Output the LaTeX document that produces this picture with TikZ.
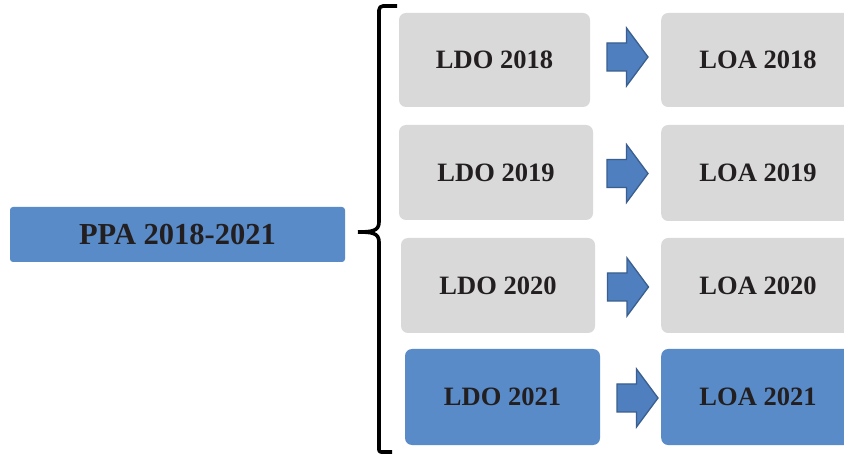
\documentclass[tikz,border=0pt]{standalone}
\usepackage{fontspec}
\setmainfont{Liberation Serif}
\begin{document}
\begin{tikzpicture}[x=1pt,y=-1pt,
  greybox/.style={fill=boxgrey,rounded corners=7pt,inner sep=0pt,font=\fontsize{26.5}{30}\selectfont\bfseries,text=txtdark},
  bluebox/.style={greybox,fill=boxblue},
  blockarrow/.style={fill=arrowblue,draw=arrowedge,line width=1.3pt,line join=miter},
  bracestyle/.style={line width=3.6pt,line join=round,line cap=butt}]
\definecolor{boxgrey}{HTML}{D9D9D9}
\definecolor{boxblue}{HTML}{588BC7}
\definecolor{arrowblue}{HTML}{4F7FBF}
\definecolor{arrowedge}{HTML}{3A5F8E}
\definecolor{txtdark}{HTML}{231F20}
\useasboundingbox (0,0) rectangle (844,454);
\clip (0,0) rectangle (844,454);
\fill[white] (0,0) rectangle (844,454);
% PPA box
\node[bluebox,rounded corners=3pt,minimum width=335pt,minimum height=55pt,font=\fontsize{30.5}{34}\selectfont\bfseries] (ppa) at (177.5,234.5) {PPA 2018-2021};
% LDO boxes
\node[greybox,minimum width=191pt,minimum height=94pt] (ldo18) at (494.5,60) {LDO 2018};
\node[greybox,minimum width=194pt,minimum height=95pt] (ldo19) at (496,172.5) {LDO 2019};
\node[greybox,minimum width=194pt,minimum height=95pt] (ldo20) at (498,285.5) {LDO 2020};
\node[bluebox,minimum width=195pt,minimum height=96pt] (ldo21) at (502.5,397) {LDO 2021};
% LOA boxes (extend past right edge)
\node[greybox,minimum width=200pt,minimum height=94pt,anchor=west] (loa18) at (661,60) {};
\node[greybox,minimum width=200pt,minimum height=96pt,anchor=west] (loa19) at (661,173) {};
\node[greybox,minimum width=200pt,minimum height=95pt,anchor=west] (loa20) at (661,285.5) {};
\node[bluebox,minimum width=200pt,minimum height=96pt,anchor=west] (loa21) at (661,397) {};
\node[font=\fontsize{26.5}{30}\selectfont\bfseries,text=txtdark] (t18) at (758,60) {LOA 2018};
\node[font=\fontsize{26.5}{30}\selectfont\bfseries,text=txtdark] (t19) at (758,173) {LOA 2019};
\node[font=\fontsize{26.5}{30}\selectfont\bfseries,text=txtdark] (t20) at (758,286) {LOA 2020};
\node[font=\fontsize{26.5}{30}\selectfont\bfseries,text=txtdark] (t21) at (758,397) {LOA 2021};
% block arrows
\foreach \cx/\cy in {627.5/57, 627.5/173.5, 628/287, 637.5/398} {
  \draw[blockarrow] (\cx-20.5,\cy-14) -- (\cx-1,\cy-14) -- (\cx-1,\cy-29) -- (\cx+20.5,\cy) -- (\cx-1,\cy+29) -- (\cx-1,\cy+14) -- (\cx-20.5,\cy+14) -- cycle;
}
% brace
\coordinate (btop) at (397,6);
\coordinate (bmid) at (358,232);
\coordinate (bbot) at (392,452);
\draw[bracestyle,rounded corners=4pt] (btop) -- (379,6) -- (379,222);
\draw[bracestyle] (379,222) .. controls (379,231) and (372,232) .. (bmid);
\draw[bracestyle] (bmid) .. controls (372,232) and (379,233) .. (379,242);
\draw[bracestyle,rounded corners=2pt] (379,242) -- (379,452) -- (bbot);
\end{tikzpicture}
\end{document}
